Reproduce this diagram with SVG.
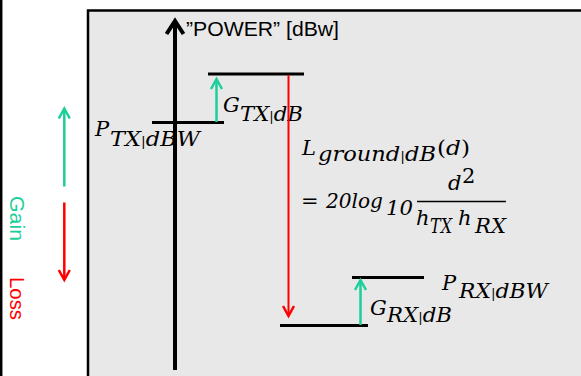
<svg xmlns="http://www.w3.org/2000/svg" width="581" height="376" viewBox="0 0 581 376">
<defs>
<style>
.lvl{stroke:#000;stroke-width:3;fill:none}
.m{font-family:"DejaVu Serif","Liberation Serif",serif;font-style:italic;font-size:21px;fill:#000}
.mu{font-family:"DejaVu Serif","Liberation Serif",serif;font-style:normal;font-size:21px;fill:#000}
.bar{font-size:13px;font-style:normal}
.lbl{font-family:"Liberation Sans",Arial,sans-serif;font-size:21px}
</style>
<marker id="ah-black" markerUnits="userSpaceOnUse" markerWidth="30" markerHeight="30" refX="0" refY="0" orient="auto" overflow="visible">
<path d="M-13,-8.5 L0,0 L-13,8.5" fill="none" stroke="#000" stroke-width="4"/>
</marker>
<marker id="ah-green" markerUnits="userSpaceOnUse" markerWidth="30" markerHeight="30" refX="0" refY="0" orient="auto" overflow="visible">
<path d="M-10,-5.5 L0,0 L-10,5.5" fill="none" stroke="#1ccf9a" stroke-width="2.5"/>
</marker>
<marker id="ah-red" markerUnits="userSpaceOnUse" markerWidth="30" markerHeight="30" refX="0" refY="0" orient="auto" overflow="visible">
<path d="M-10,-5.5 L0,0 L-10,5.5" fill="none" stroke="#ff0000" stroke-width="2.5"/>
</marker>
</defs>
<rect x="0" y="0" width="581" height="376" fill="#fff"/>
<line x1="1.2" y1="0" x2="1.2" y2="376" stroke="#000" stroke-width="2.5"/>
<rect id="frame" x="88" y="10.5" width="500" height="380" fill="#e8e8e8" stroke="#000" stroke-width="2.5"/>

<g id="legend">
<text class="lbl" fill="#1ccf9a" transform="translate(10,196) rotate(90)" textLength="45" lengthAdjust="spacingAndGlyphs">Gain</text>
<text class="lbl" fill="#ff0000" transform="translate(10,277) rotate(90)" textLength="43" lengthAdjust="spacingAndGlyphs">Loss</text>
</g>

<g id="axis">
<text class="lbl" x="186" y="36" fill="#000" font-size="19" textLength="153" lengthAdjust="spacingAndGlyphs">”POWER” [dBw]</text>
</g>

<g id="p-tx">
<line class="lvl" x1="152" y1="122.5" x2="224" y2="122.5"/>
<text class="m" x="95" y="136">P</text>
<text class="m" x="110" y="146" textLength="90" lengthAdjust="spacingAndGlyphs">TX<tspan class="bar">|</tspan>dBW</text>
</g>

<g id="g-tx">
<line class="lvl" x1="208" y1="74" x2="304" y2="74"/>
<text class="m" x="223" y="112">G</text>
<text class="m" x="240" y="121" textLength="63" lengthAdjust="spacingAndGlyphs">TX<tspan class="bar">|</tspan>dB</text>
</g>

<g id="l-ground">
<text class="m" x="302" y="155">L</text>
<text class="m" x="318" y="161" textLength="118" lengthAdjust="spacingAndGlyphs">ground<tspan class="bar">|</tspan>dB</text>
<text class="mu" x="437" y="155" textLength="33" lengthAdjust="spacingAndGlyphs">(<tspan class="m">d</tspan>)</text>
<text class="mu" x="301" y="208">=</text>
<text class="m" x="326" y="208" textLength="57" lengthAdjust="spacingAndGlyphs">20log</text>
<text class="m" x="386" y="215" textLength="27" lengthAdjust="spacingAndGlyphs">10</text>
<text class="m" x="448" y="190">d</text>
<text class="mu" x="462" y="183" font-size="14">2</text>
<line x1="417" y1="201.5" x2="506" y2="201.5" stroke="#000" stroke-width="1.5"/>
<text class="m" x="416" y="225">h</text>
<text class="m" x="430" y="233" textLength="22" lengthAdjust="spacingAndGlyphs">TX</text>
<text class="m" x="458" y="225">h</text>
<text class="m" x="475" y="233" textLength="31" lengthAdjust="spacingAndGlyphs">RX</text>
</g>

<g id="g-rx">
<line class="lvl" x1="280" y1="325.5" x2="368" y2="325.5"/>
<text class="m" x="370" y="315">G</text>
<text class="m" x="387" y="322" textLength="65" lengthAdjust="spacingAndGlyphs">RX<tspan class="bar">|</tspan>dB</text>
</g>

<g id="p-rx">
<line class="lvl" x1="352" y1="277.5" x2="424" y2="277.5"/>
<text class="m" x="442" y="290">P</text>
<text class="m" x="459" y="298" textLength="89" lengthAdjust="spacingAndGlyphs">RX<tspan class="bar">|</tspan>dBW</text>
</g>

<g id="connectors">
<line x1="175" y1="370" x2="175" y2="21" stroke="#000" stroke-width="4" marker-end="url(#ah-black)"/>
<line x1="216.5" y1="122" x2="216.5" y2="79" stroke="#1ccf9a" stroke-width="2.5" marker-end="url(#ah-green)"/>
<line x1="288.5" y1="75" x2="288.5" y2="316" stroke="#ff0000" stroke-width="2" marker-end="url(#ah-red)"/>
<line x1="360.5" y1="325" x2="360.5" y2="280" stroke="#1ccf9a" stroke-width="2.5" marker-end="url(#ah-green)"/>
<line x1="64.3" y1="186.5" x2="64.3" y2="108.5" stroke="#1ccf9a" stroke-width="2.5" marker-end="url(#ah-green)"/>
<line x1="64.3" y1="202.5" x2="64.3" y2="280" stroke="#ff0000" stroke-width="2.5" marker-end="url(#ah-red)"/>
</g>
</svg>
